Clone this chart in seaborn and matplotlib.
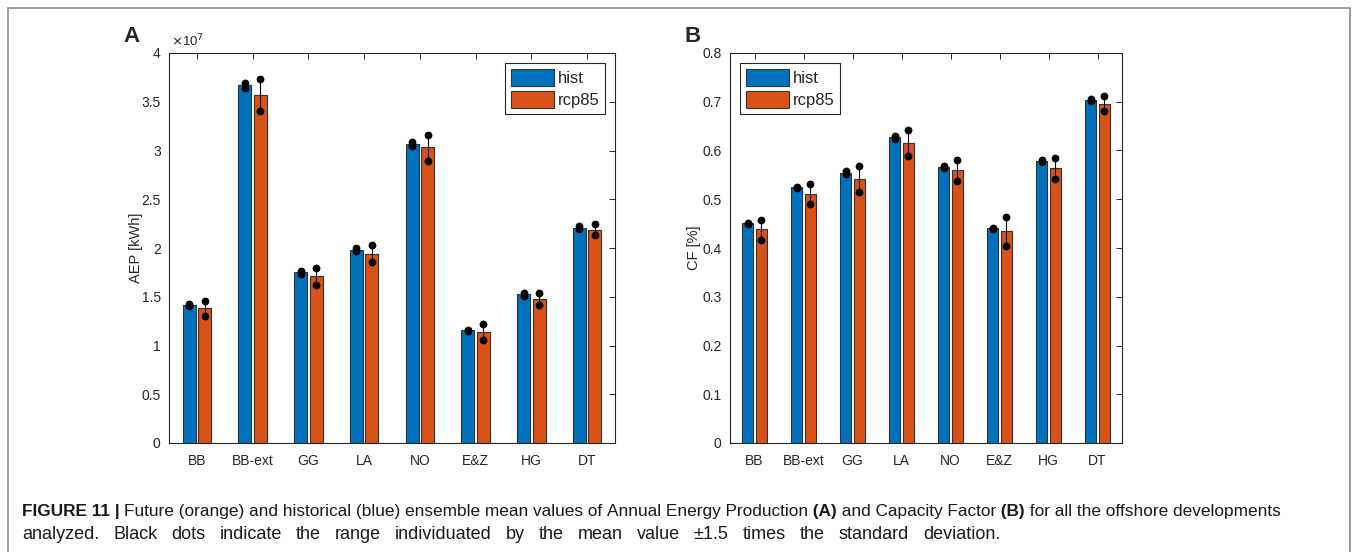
import pandas as pd
import matplotlib.pyplot as plt
import seaborn as sns
from matplotlib.patches import Rectangle
from matplotlib.ticker import FuncFormatter, MultipleLocator

sns.set_style('white')
plt.rcParams['font.family'] = ['Liberation Sans', 'DejaVu Sans']

sites = ['BB', 'BB-ext', 'GG', 'LA', 'NO', 'E&Z', 'HG', 'DT']
scenarios = ['hist', 'rcp85']

# Annual energy production [kWh]: ensemble mean, mean -/+ 1.5 std
aep_hist = [1.420e7, 3.668e7, 1.749e7, 1.980e7, 3.066e7, 1.154e7, 1.524e7, 2.210e7]
aep_hist_lo = [1.410e7, 3.645e7, 1.730e7, 1.966e7, 3.050e7, 1.145e7, 1.510e7, 2.200e7]
aep_hist_hi = [1.430e7, 3.690e7, 1.760e7, 2.000e7, 3.092e7, 1.162e7, 1.537e7, 2.230e7]
aep_rcp = [1.380e7, 3.573e7, 1.708e7, 1.939e7, 3.031e7, 1.140e7, 1.480e7, 2.189e7]
aep_rcp_lo = [1.305e7, 3.405e7, 1.620e7, 1.854e7, 2.895e7, 1.058e7, 1.420e7, 2.130e7]
aep_rcp_hi = [1.453e7, 3.737e7, 1.793e7, 2.027e7, 3.159e7, 1.222e7, 1.540e7, 2.250e7]

# Capacity factor
cf_hist = [0.451, 0.525, 0.554, 0.627, 0.567, 0.441, 0.579, 0.703]
cf_hist_lo = [0.449, 0.523, 0.552, 0.624, 0.565, 0.439, 0.576, 0.701]
cf_hist_hi = [0.452, 0.526, 0.557, 0.630, 0.569, 0.442, 0.581, 0.705]
cf_rcp = [0.439, 0.511, 0.542, 0.616, 0.559, 0.435, 0.564, 0.696]
cf_rcp_lo = [0.417, 0.490, 0.515, 0.589, 0.538, 0.404, 0.541, 0.681]
cf_rcp_hi = [0.458, 0.531, 0.568, 0.642, 0.581, 0.464, 0.584, 0.711]

colors = ['#0072BD', '#D95319']
axis_col = '#262626'

fig = plt.figure(figsize=(13.54, 5.52), dpi=100)
axA = fig.add_axes([169/1354, 1 - 443/552, 446/1354, 390/552])
axB = fig.add_axes([730/1354, 1 - 443/552, 392/1354, 390/552])


def panel(ax, hist, rcp, ranges, ylabel, ymax, step, scale, legend_loc, lpad):
    df = pd.DataFrame({'site': sites * 2,
                       'scenario': ['hist'] * len(sites) + ['rcp85'] * len(sites),
                       'value': hist + rcp})
    sns.barplot(data=df, x='site', y='value', hue='scenario', order=sites,
                hue_order=scenarios, palette=colors, saturation=1, width=0.56,
                gap=0.17, edgecolor='#333333', linewidth=0.8, errorbar=None, ax=ax)
    # range markers (mean +/- 1.5 std)
    for bars, (lo, hi) in zip(ax.containers, ranges):
        xs = [b.get_x() + b.get_width() / 2 for b in bars]
        ax.vlines(xs, lo, hi, color='black', lw=0.8, zorder=3)
        ax.plot(xs, lo, 'o', color='black', ms=4.6, zorder=4)
        ax.plot(xs, hi, 'o', color='black', ms=4.6, zorder=4)

    ax.set_xlim(-0.5, len(sites) - 0.5)
    ax.set_ylim(0, ymax)
    ax.yaxis.set_major_locator(MultipleLocator(step))
    ax.yaxis.set_major_formatter(FuncFormatter(lambda v, _: f'{v / scale:g}'))
    ax.set_xlabel('')
    ax.set_ylabel(ylabel, fontsize=10.5, color=axis_col, labelpad=lpad)
    ax.tick_params(direction='in', top=True, right=True, length=4, width=0.7,
                   color=axis_col, labelsize=10, labelcolor=axis_col, pad=6)
    ax.tick_params(axis='x', pad=8)
    for sp in ax.spines.values():
        sp.set_color(axis_col)
        sp.set_linewidth(0.8)
    handles, labels = ax.get_legend_handles_labels()
    ax.legend(handles, labels, loc=legend_loc, fontsize=12, frameon=True,
              fancybox=False, edgecolor=axis_col, framealpha=1,
              handlelength=2.6, handleheight=1.2, handletextpad=0.2,
              labelspacing=0.3, borderpad=0.35, borderaxespad=0.6)
    ax.get_legend().get_frame().set_linewidth(0.8)


panel(axA, aep_hist, aep_rcp, [(aep_hist_lo, aep_hist_hi), (aep_rcp_lo, aep_rcp_hi)],
      'AEP [kWh]', 4e7, 0.5e7, 1e7, 'upper right', -1)
panel(axB, cf_hist, cf_rcp, [(cf_hist_lo, cf_hist_hi), (cf_rcp_lo, cf_rcp_hi)],
      'CF [%]', 0.8, 0.1, 1, 'upper left', 1)

axA.text(0.005, 1.01, r'$\times$10$^{7}$', transform=axA.transAxes, fontsize=9.5,
         color=axis_col, ha='left', va='bottom')

fig.text(123/1354, 1 - 37/552, 'A', fontsize=16, weight='bold', va='center')
fig.text(685/1354, 1 - 37/552, 'B', fontsize=16, weight='bold', va='center')

# outer frame
fig.add_artist(Rectangle((8/1354, -0.02), 1342/1354, 1 - 8/552 + 0.02,
                         transform=fig.transFigure, fill=False,
                         edgecolor='#8c8c8c', lw=1.2, clip_on=False))

# caption, written piece by piece so bold parts can be mixed in
cap_col = '#1a1a1a'
renderer = fig.canvas.get_renderer()


def text_w(s, weight, size):
    t = fig.text(0, 0, s.replace(' ', '\u00a0'), fontsize=size, weight=weight)
    w = t.get_window_extent(renderer).width
    t.remove()
    return w


segments1 = [('FIGURE 11', 'bold'), (' | ', 'bold'),
             ('Future (orange) and historical (blue) ensemble mean values of Annual Energy Production', 'normal'),
             (' (A)', 'bold'), (' and Capacity Factor', 'normal'), (' (B)', 'bold'),
             (' for all the offshore developments', 'normal')]
x = 22
for s, w in segments1:
    fig.text(x / 1354, 1 - 516/552, s.replace(' ', '\u00a0'), fontsize=12.4,
             weight=w, va='baseline', color=cap_col)
    x += text_w(s, w, 12.4)

line2 = 'analyzed. Black dots indicate the range individuated by the mean value \u00b11.5 times the standard deviation.'
words = line2.split(' ')
widths = [text_w(wd, 'normal', 13) for wd in words]
space = (1000 - 22 - sum(widths)) / (len(words) - 1)
x = 22
for wd, w in zip(words, widths):
    fig.text(x / 1354, 1 - 539/552, wd, fontsize=13, va='baseline', color=cap_col)
    x += w + space

fig.savefig('out.png', dpi=100)
